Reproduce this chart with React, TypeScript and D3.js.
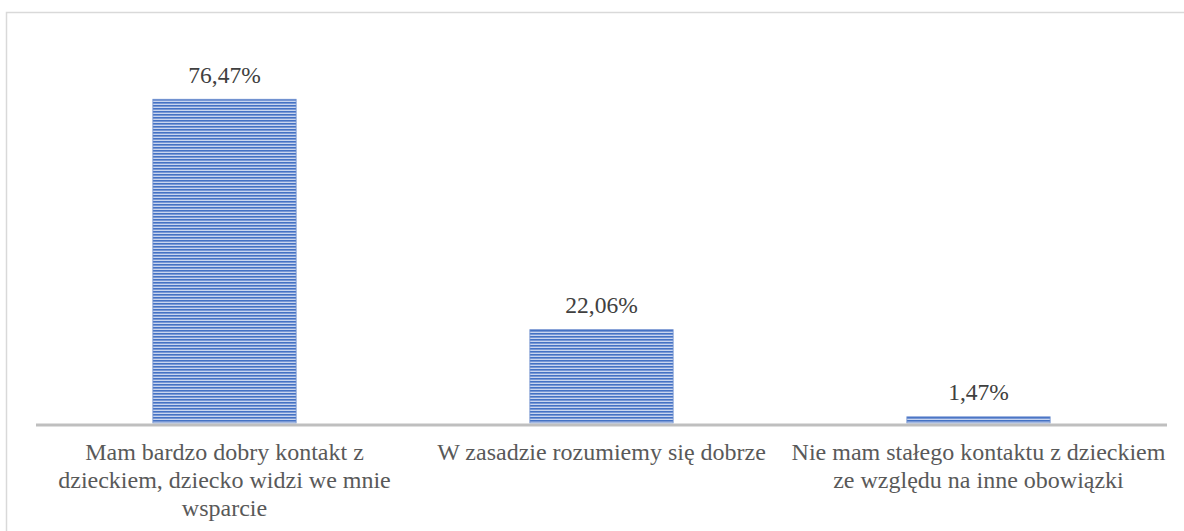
import React from "react";
import * as d3 from "d3";

const categories: string[][] = [
  ["Mam bardzo dobry kontakt z", "dzieckiem, dziecko widzi we mnie", "wsparcie"],
  ["W zasadzie rozumiemy się dobrze"],
  ["Nie mam stałego kontaktu z dzieckiem", "ze względu na inne obowiązki"],
];
const values: number[] = [76.47, 22.06, 1.47];
const valueLabels: string[] = ["76,47%", "22,06%", "1,47%"];

const W = 1184;
const H = 531;
const margin = { left: 36, right: 17, top: 42, bottom: 108 };

export default function App() {
  const x = d3
    .scaleBand<number>()
    .domain(values.map((_, i) => i))
    .range([margin.left, W - margin.right])
    .paddingInner(0.62)
    .paddingOuter(0.31);
  const y = d3
    .scaleLinear()
    .domain([0, 90])
    .range([H - margin.bottom, margin.top]);
  const base = y(0);
  const font = "'Liberation Serif', 'Times New Roman', serif";

  return (
    <svg
      width={W}
      height={H}
      style={{ position: "absolute", left: 0, top: 0, background: "#fff" }}
    >
      <defs>
        <pattern id="stripes" patternUnits="userSpaceOnUse" width={4} height={3}>
          <rect x={0} y={0} width={4} height={3} fill="#c8d5ef" />
          <rect x={0} y={0} width={4} height={1} fill="#4472c4" />
          <rect x={0} y={1} width={4} height={1} fill="#7897d4" />
        </pattern>
      </defs>
      <rect x={6.5} y={12.5} width={W + 10} height={H + 10} fill="none" stroke="#d9d9d9" strokeWidth={1.5} />
      {values.map((v, i) => {
        const bx = x(i)!;
        const top = y(v);
        return (
          <g key={i}>
            <rect
              x={bx}
              y={top}
              width={x.bandwidth()}
              height={base - top}
              fill="url(#stripes)"
              stroke="#6f8fcf"
              strokeWidth={0.8}
            />
            <text
              x={bx + x.bandwidth() / 2}
              y={top - 16.5}
              textAnchor="middle"
              fontFamily={font}
              fontSize={23.5}
              fill="#404040"
            >
              {valueLabels[i]}
            </text>
          </g>
        );
      })}
      <line
        x1={margin.left}
        x2={W - margin.right}
        y1={base + 2}
        y2={base + 2}
        stroke="#bfbfbf"
        strokeWidth={3}
      />
      {categories.map((lines, i) => {
        const cx = x(i)! + x.bandwidth() / 2;
        return (
          <text
            key={i}
            textAnchor="middle"
            fontFamily={font}
            fontSize={24}
            fill="#595959"
          >
            {lines.map((ln, j) => (
              <tspan key={j} x={cx} y={base + 37 + j * 28}>
                {ln}
              </tspan>
            ))}
          </text>
        );
      })}
    </svg>
  );
}
